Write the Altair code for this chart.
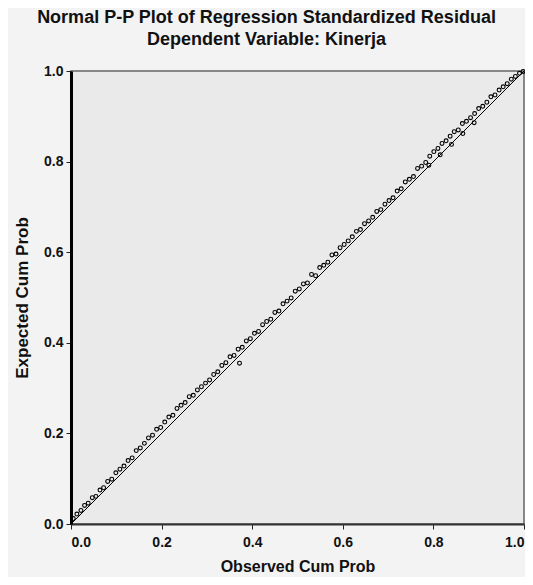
import altair as alt
import pandas as pd

# Observed cumulative probability (x) and expected cumulative probability (y)
observed = [0.005, 0.013, 0.022, 0.030, 0.038, 0.047, 0.055, 0.064, 0.072, 0.081, 0.090, 0.099,
            0.108, 0.117, 0.126, 0.135, 0.144, 0.153, 0.162, 0.171, 0.180, 0.189, 0.198,
            0.207, 0.216, 0.225, 0.234, 0.243, 0.252, 0.261, 0.270, 0.279, 0.288, 0.297,
            0.306, 0.315, 0.324, 0.333, 0.342, 0.351, 0.360, 0.369, 0.372, 0.378, 0.387, 0.396,
            0.405, 0.414, 0.423, 0.432, 0.441, 0.450, 0.459, 0.468, 0.477, 0.486, 0.495,
            0.504, 0.513, 0.522, 0.531, 0.540, 0.549, 0.558, 0.567, 0.576, 0.585, 0.594,
            0.603, 0.612, 0.621, 0.630, 0.639, 0.648, 0.657, 0.666, 0.675, 0.684, 0.693,
            0.702, 0.711, 0.720, 0.729, 0.738, 0.747, 0.756, 0.765, 0.774, 0.783, 0.790, 0.792,
            0.801, 0.810, 0.815, 0.819, 0.828, 0.837, 0.840, 0.846, 0.855, 0.864, 0.865, 0.873,
            0.882, 0.890, 0.891,
            0.900, 0.909, 0.918, 0.927, 0.936, 0.945, 0.954, 0.963, 0.972, 0.981, 0.990, 0.998]
expected = [0.012, 0.022, 0.030, 0.041, 0.046, 0.058, 0.061, 0.075, 0.080, 0.094, 0.099, 0.113,
            0.121, 0.128, 0.140, 0.146, 0.162, 0.168, 0.178, 0.190, 0.196, 0.209, 0.213,
            0.225, 0.236, 0.240, 0.255, 0.262, 0.268, 0.281, 0.284, 0.296, 0.303, 0.311,
            0.318, 0.330, 0.336, 0.350, 0.356, 0.369, 0.372, 0.386, 0.355, 0.390, 0.404, 0.409,
            0.421, 0.425, 0.440, 0.447, 0.452, 0.467, 0.470, 0.486, 0.492, 0.499, 0.514,
            0.519, 0.530, 0.532, 0.551, 0.548, 0.566, 0.571, 0.578, 0.594, 0.596, 0.610,
            0.617, 0.625, 0.634, 0.646, 0.650, 0.663, 0.669, 0.677, 0.690, 0.694, 0.706,
            0.714, 0.720, 0.735, 0.740, 0.755, 0.761, 0.767, 0.785, 0.790, 0.798, 0.792, 0.812,
            0.822, 0.829, 0.815, 0.840, 0.846, 0.856, 0.838, 0.866, 0.870, 0.884, 0.862, 0.889,
            0.897, 0.886, 0.906,
            0.917, 0.922, 0.931, 0.943, 0.947, 0.958, 0.965, 0.972, 0.982, 0.988, 0.995, 0.999]

ref_line = [0.0, 1.0]
ticks = [0.0, 0.2, 0.4, 0.6, 0.8, 1.0]

points = pd.DataFrame({"obs": observed, "exp": expected})
diag = pd.DataFrame({"obs": ref_line, "exp": ref_line})

FONT = "Liberation Sans"

xscale = alt.Scale(domain=[0, 1], nice=False, zero=False)
yscale = alt.Scale(domain=[0, 1], nice=False, zero=False)

xaxis = alt.Axis(title="Observed Cum Prob", values=ticks, format=".1f", grid=False,
                 domainColor="#333333", domainWidth=2, tickColor="#222222", tickSize=5,
                 labelFont=FONT, labelFontSize=14, labelFontWeight="bold", labelColor="#111111",
                 labelPadding=6, titleFont=FONT, titleFontSize=16, titleFontWeight="bold",
                 titleColor="#111111", titlePadding=9)
yaxis = alt.Axis(title="Expected Cum Prob", values=ticks, format=".1f", grid=False,
                 domainColor="#000000", domainWidth=3, tickColor="#222222", tickSize=5,
                 labelFont=FONT, labelFontSize=14, labelFontWeight="bold", labelColor="#111111",
                 labelPadding=3, titleFont=FONT, titleFontSize=17, titleFontWeight="bold",
                 titleColor="#111111", titlePadding=12)

line = alt.Chart(diag).mark_line(color="#000000", strokeWidth=1).encode(
    x=alt.X("obs:Q", scale=xscale, axis=xaxis),
    y=alt.Y("exp:Q", scale=yscale, axis=yaxis),
)
dots = alt.Chart(points).mark_point(shape="circle", filled=False, size=15,
                                    color="#000000", strokeWidth=1.1, opacity=1).encode(
    x=alt.X("obs:Q", scale=xscale),
    y=alt.Y("exp:Q", scale=yscale),
)

chart = alt.layer(line, dots).properties(
    width=453, height=453,
    title=alt.TitleParams(
        text="Normal P-P Plot of Regression Standardized Residual",
        subtitle="Dependent Variable: Kinerja",
        font=FONT, fontSize=18, fontWeight="bold", color="#111111",
        subtitleFont=FONT, subtitleFontSize=18, subtitleFontWeight="bold", subtitleColor="#111111",
        anchor="middle", dx=-31, offset=15, subtitlePadding=4,
    ),
    autosize=alt.AutoSizeParams(type="none"),
    padding={"left": 63, "top": 63, "right": 1, "bottom": 53},
    background="#f3f3f3",
).configure_view(fill="#eaeaea", stroke="#666666", strokeWidth=1.5)

chart.save("out.html", embed_options={"renderer": "svg", "actions": False})
